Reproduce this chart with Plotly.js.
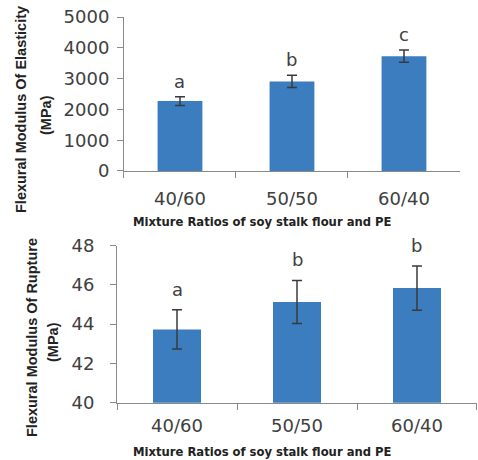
<!DOCTYPE html>
<html>
<head>
<meta charset="utf-8">
<script src="https://cdn.plot.ly/plotly-3.0.1.min.js"></script>
<style>html,body{margin:0;padding:0;background:#fff;}#chart{width:478px;height:460px;}</style>
</head>
<body>
<div id="chart"></div>
<script>
const categories = ['40/60', '50/50', '60/40'];
const elasticity = [2270, 2910, 3730];
const elasticityErr = [140, 200, 200];
const elasticityLetters = ['a', 'b', 'c'];
const rupture = [43.73, 45.13, 45.84];
const ruptureErr = [1.0, 1.1, 1.13];
const ruptureLetters = ['a', 'b', 'b'];
const xTitle = 'Mixture Ratios of soy stalk flour and PE';
const yTitleTop = ['Flexural Modulus Of Elasticity', '(MPa)'];
const yTitleBottom = ['Flexural Modulus Of Rupture', '(MPa)'];

const barColor = '#3b7dbf';
const errStyle = (arr) => ({type: 'data', array: arr, visible: true, color: '#3a3a3a', thickness: 1.5, width: 5});

const traces = [
  {type: 'bar', x: categories, y: elasticity, error_y: errStyle(elasticityErr), marker: {color: barColor}, xaxis: 'x', yaxis: 'y', hoverinfo: 'none'},
  {type: 'bar', x: categories, y: rupture, error_y: errStyle(ruptureErr), marker: {color: barColor}, xaxis: 'x2', yaxis: 'y2', hoverinfo: 'none', base: 0}
];

const tickFont = {family: 'DejaVu Sans, Verdana, sans-serif', size: 18, color: '#404040'};
const xTitleFont = {family: 'DejaVu Sans, Verdana, sans-serif', size: 11.6, color: '#222', weight: 'bold'};
const yTitleFont = {family: 'Liberation Sans Narrow, Arial Narrow, sans-serif', size: 14.5, color: '#222', weight: 'bold'};

const xCommon = {
  type: 'category', tickson: 'boundaries', ticks: 'outside', ticklen: 6, tickcolor: '#8a8a8a',
  showline: true, linecolor: '#8a8a8a', linewidth: 1, showgrid: false, zeroline: false,
  tickfont: tickFont, automargin: false, fixedrange: true
};
const yCommon = {
  ticks: 'outside', ticklen: 6, tickcolor: '#8a8a8a', showline: true, linecolor: '#8a8a8a', linewidth: 1,
  showgrid: false, zeroline: false, tickfont: tickFont, automargin: false, fixedrange: true
};

const annotations = [];
categories.forEach((c, i) => {
  annotations.push({x: c, y: elasticity[i] + elasticityErr[i], xref: 'x', yref: 'y', text: elasticityLetters[i], showarrow: false,
    yanchor: 'bottom', yshift: 3, font: {family: 'DejaVu Sans, Verdana, sans-serif', size: 18, color: '#404040'}});
  annotations.push({x: c, y: rupture[i] + ruptureErr[i], xref: 'x2', yref: 'y2', text: ruptureLetters[i], showarrow: false,
    yanchor: 'bottom', yshift: 8, font: {family: 'DejaVu Sans, Verdana, sans-serif', size: 18, color: '#404040'}});
});
// axis titles (positioned in paper coordinates)
const H = 460, W = 478;
function titleAnn(text, px, py, font, angle) {
  return {text: text, xref: 'paper', yref: 'paper', x: px / W, y: 1 - py / H, xanchor: 'center', yanchor: 'middle',
    showarrow: false, font: font, textangle: angle || 0};
}
annotations.push(titleAnn(xTitle, 262, 222, xTitleFont));
annotations.push(titleAnn(xTitle, 262, 452, xTitleFont));
annotations.push(titleAnn(yTitleTop[0], 21, 110, yTitleFont, -90));
annotations.push(titleAnn(yTitleTop[1], 46, 115, yTitleFont, -90));
annotations.push(titleAnn(yTitleBottom[0], 32, 338, yTitleFont, -90));
annotations.push(titleAnn(yTitleBottom[1], 53, 342, yTitleFont, -90));

const layout = {
  width: W, height: H, margin: {l: 0, r: 0, t: 0, b: 0},
  paper_bgcolor: '#fff', plot_bgcolor: '#fff', showlegend: false, bargap: 0.6,
  xaxis: Object.assign({}, xCommon, {domain: [0.2594, 0.9623], anchor: 'y', ticklabelstandoff: 11}),
  yaxis: Object.assign({}, yCommon, {domain: [0.6283, 0.9630], anchor: 'x', range: [0, 5000], dtick: 1000, ticklabelstandoff: 4}),
  xaxis2: Object.assign({}, xCommon, {domain: [0.2448, 0.9979], anchor: 'y2', ticklabelstandoff: 7}),
  yaxis2: Object.assign({}, yCommon, {domain: [0.1246, 0.4659], anchor: 'x2', range: [40, 48], dtick: 2, ticklabelstandoff: 12}),
  annotations: annotations
};

Plotly.newPlot('chart', traces, layout, {displayModeBar: false, staticPlot: true});
</script>
</body>
</html>
